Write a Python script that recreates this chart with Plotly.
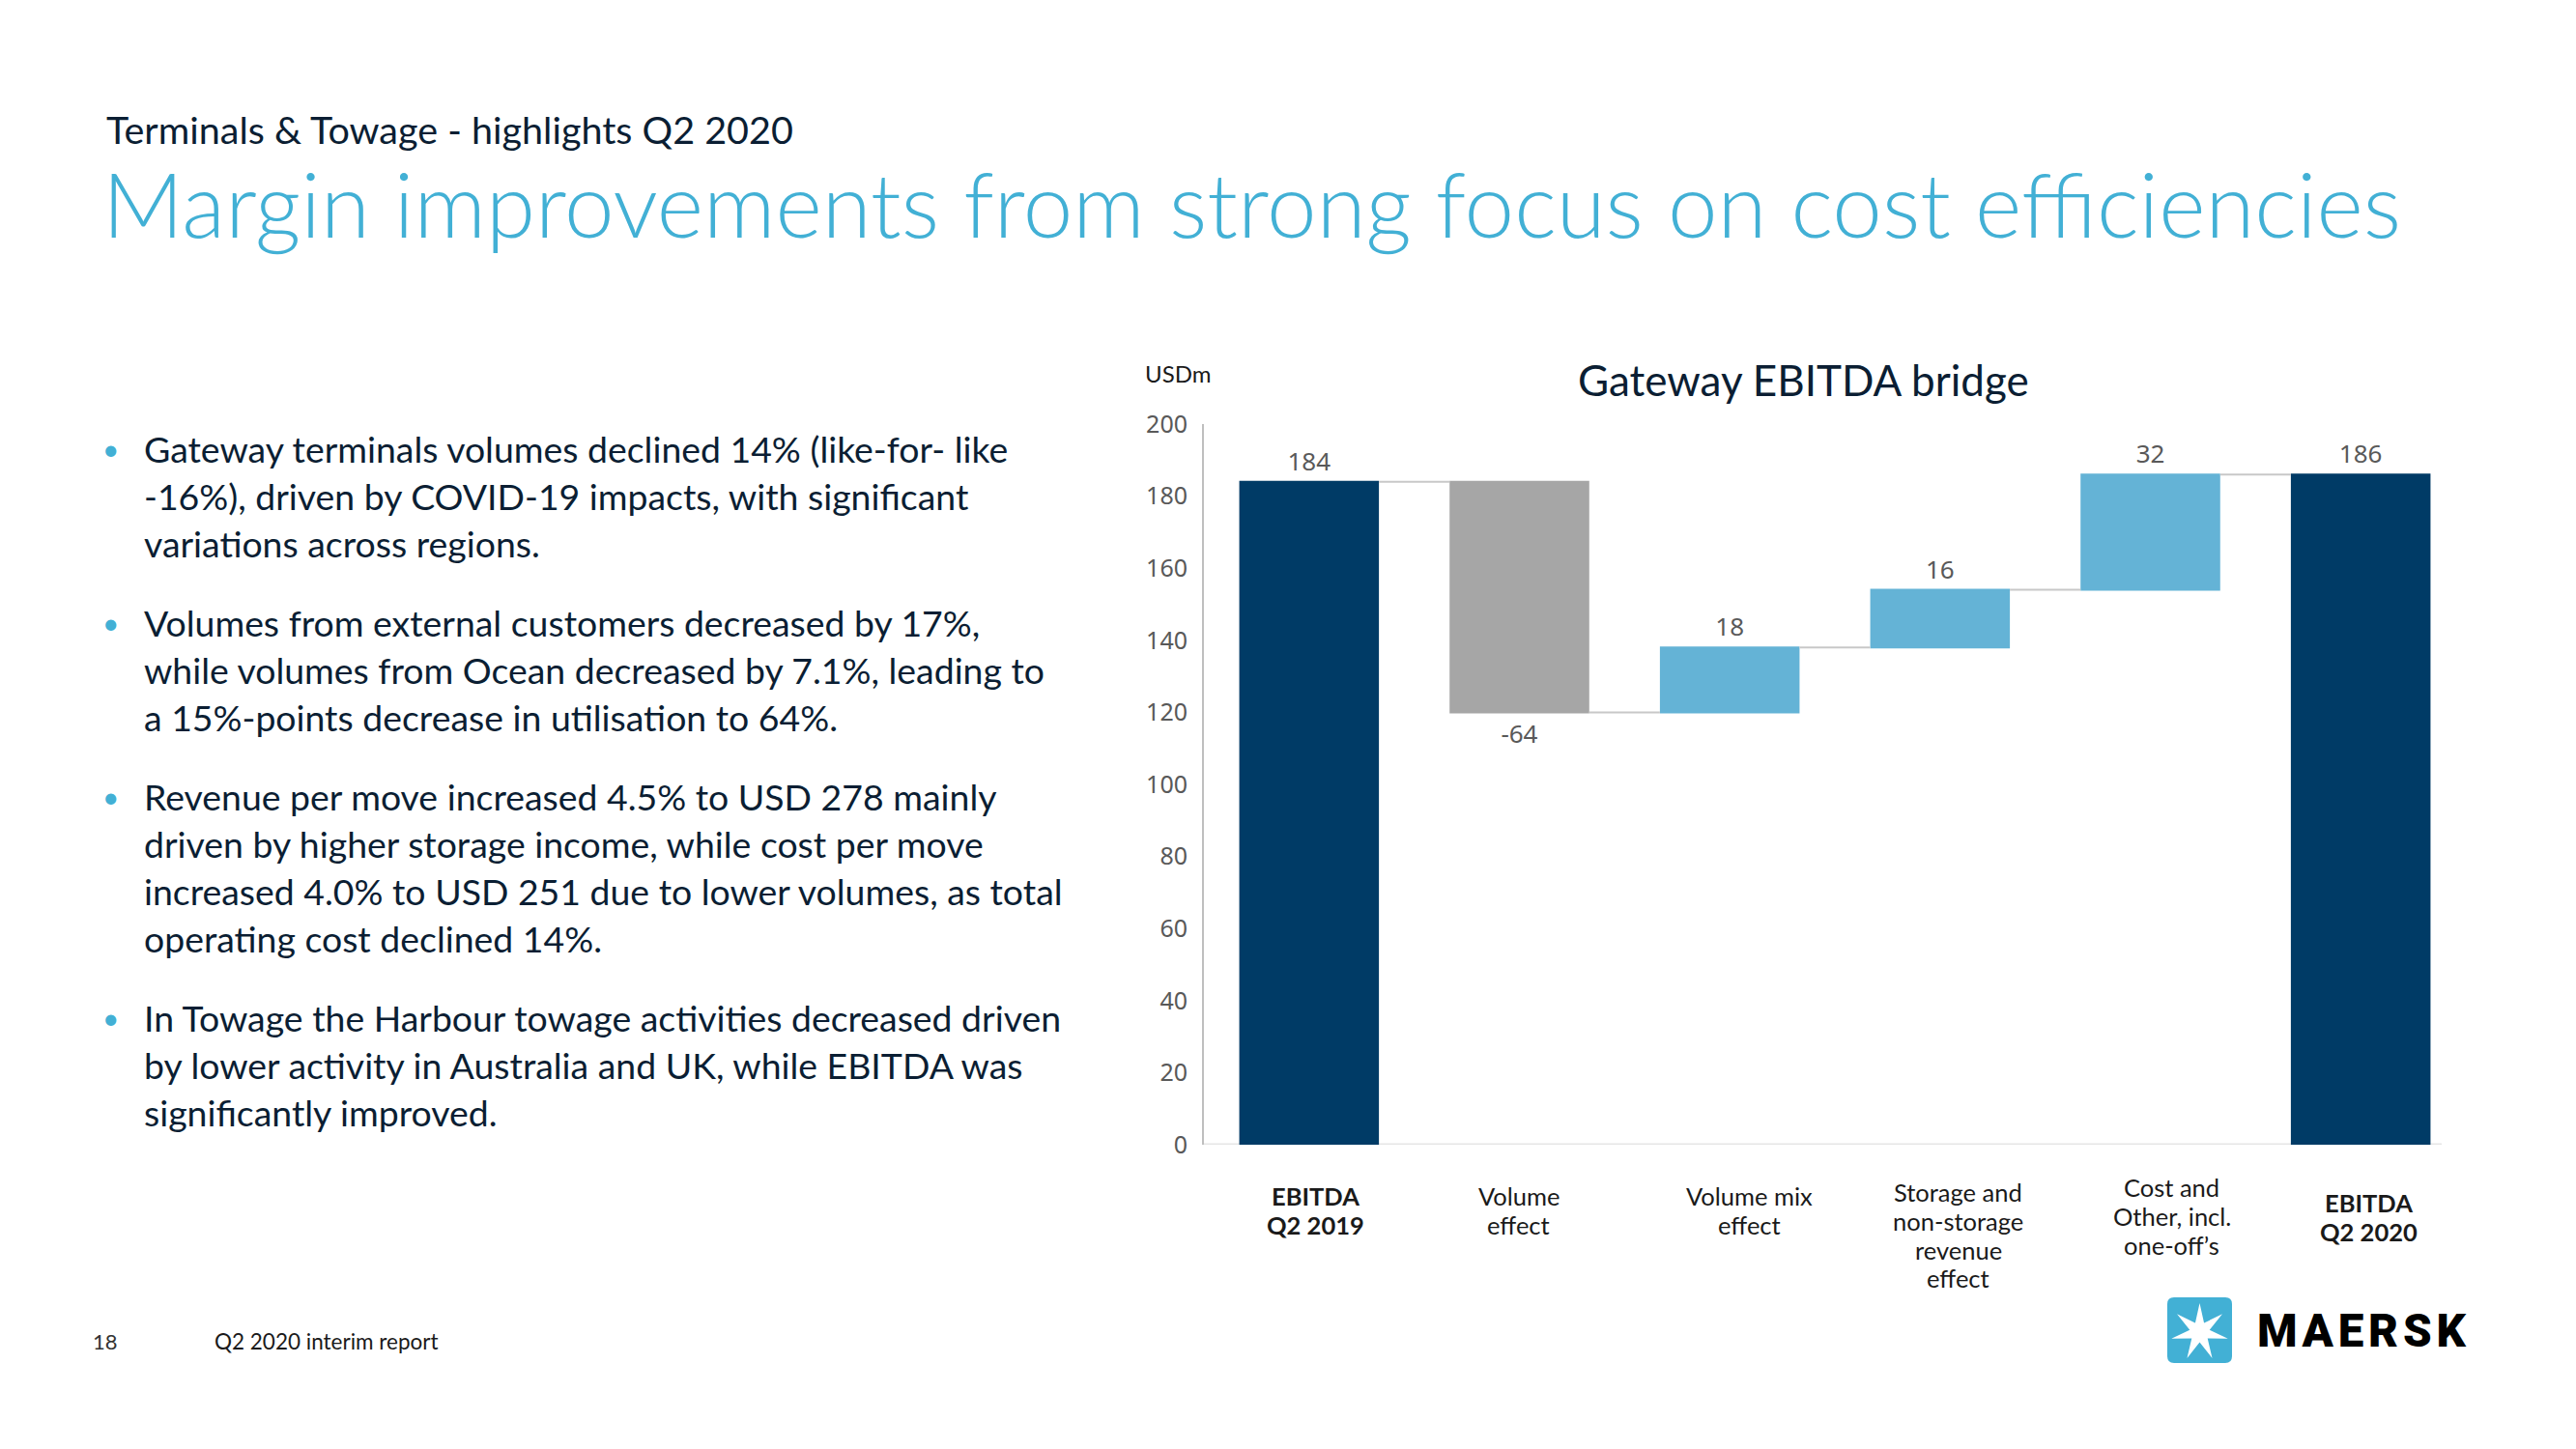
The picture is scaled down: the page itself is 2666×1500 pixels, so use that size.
import math
import plotly.graph_objects as go

W, H = 2666, 1500
PAGE_OFFSET = 8  # default body margin of the written html page

# ---------------- data ----------------
categories = ["EBITDA Q2 2019", "Volume effect", "Volume mix effect",
              "Storage and non-storage revenue effect",
              "Cost and Other, incl. one-off's", "EBITDA Q2 2020"]
category_lines = [["<b>EBITDA</b>", "<b>Q2 2019</b>"],
                  ["Volume", "effect"],
                  ["Volume mix", "effect"],
                  ["Storage and", "non-storage", "revenue", "effect"],
                  ["Cost and", "Other, incl.", "one-off\u2019s"],
                  ["<b>EBITDA</b>", "<b>Q2 2020</b>"]]
values = [184, -64, 18, 16, 32, 186]
measures = ["absolute", "relative", "relative", "relative", "relative", "total"]
value_labels = ["184", "-64", "18", "16", "32", "186"]
y_ticks = [0, 20, 40, 60, 80, 100, 120, 140, 160, 180, 200]

kicker = "Terminals & Towage - highlights Q2 2020"
headline = "Margin improvements from strong focus on cost efficiencies"
chart_title = "Gateway EBITDA bridge"
unit_label = "USDm"
bullets = [
    ["Gateway terminals volumes declined 14% (like-for- like",
     "-16%), driven by COVID-19 impacts, with significant",
     "variations across regions."],
    ["Volumes from external customers decreased by 17%,",
     "while volumes from Ocean decreased by 7.1%, leading to",
     "a 15%-points decrease in utilisation to 64%."],
    ["Revenue per move increased 4.5% to USD 278 mainly",
     "driven by higher storage income, while cost per move",
     "increased 4.0% to USD 251 due to lower volumes, as total",
     "operating cost declined 14%."],
    ["In Towage the Harbour towage activities decreased driven",
     "by lower activity in Australia and UK, while EBITDA was",
     "significantly improved."],
]
page_number = "18"
footer_text = "Q2 2020 interim report"
brand = "MAERSK"

# ---------------- style ----------------
NAVY = "#003b66"
LIGHT = "#64b3d6"
GREY = "#a6a6a6"
MAERSK_BLUE = "#42b0d5"
DARK_TEXT = "#0b1e33"
LABEL_GREY = "#595959"
TEXT_FONT = "Lato"
NUM_FONT = "Noto Sans"
label_first_line_y = [1238, 1238, 1238, 1234, 1229, 1245]
label_x_shift = [7, -1, 20, 19, 22, 8]
label_line_step = 29.8


def px(x):
    return (x - PAGE_OFFSET) / W


def py(y):
    return 1 - (y - PAGE_OFFSET) / H


fig = go.Figure()
fig.add_trace(go.Waterfall(
    x=categories,
    y=values,
    measure=measures,
    text=value_labels,
    textposition="outside",
    textfont=dict(family=NUM_FONT, size=26, color=LABEL_GREY),
    cliponaxis=False,
    increasing=dict(marker=dict(color=LIGHT)),
    decreasing=dict(marker=dict(color=GREY)),
    totals=dict(marker=dict(color=NAVY)),
    connector=dict(line=dict(color="#c8c8c8", width=2), mode="between"),
    hoverinfo="skip",
    showlegend=False,
))

annotations = []
annotations.append(dict(text=kicker, x=px(108), y=py(133), xref="paper", yref="paper",
                        xanchor="left", yanchor="middle", showarrow=False,
                        font=dict(family=TEXT_FONT, size=39.5, color=DARK_TEXT)))
annotations.append(dict(text=headline, x=px(104), y=py(210), xref="paper", yref="paper",
                        xanchor="left", yanchor="middle", showarrow=False,
                        font=dict(family=TEXT_FONT, size=92.5, color=MAERSK_BLUE, weight=300)))

line_step = 49.1
para_gap = 32.8
y = 464.0
for para in bullets:
    for i, line in enumerate(para):
        if i == 0:
            annotations.append(dict(text="\u2022", x=px(114), y=py(y), xref="paper", yref="paper",
                                    xanchor="center", yanchor="middle", showarrow=False,
                                    font=dict(family=TEXT_FONT, size=30, color=MAERSK_BLUE)))
        annotations.append(dict(text=line, x=px(147), y=py(y), xref="paper", yref="paper",
                                xanchor="left", yanchor="middle", showarrow=False,
                                font=dict(family=TEXT_FONT, size=37.4, color=DARK_TEXT)))
        y += line_step
    y += para_gap

for cat, lines, y0, dx in zip(categories, category_lines, label_first_line_y, label_x_shift):
    for j, ln in enumerate(lines):
        annotations.append(dict(text=ln, x=cat, y=py(y0 + j * label_line_step), xref="x", yref="paper",
                                xanchor="center", yanchor="middle", showarrow=False, xshift=dx,
                                font=dict(family=TEXT_FONT, size=25.5, color="#1a1a1a")))

annotations.append(dict(text=chart_title, x=px(1866), y=py(393), xref="paper", yref="paper",
                        xanchor="center", yanchor="middle", showarrow=False,
                        font=dict(family=TEXT_FONT, size=44, color=DARK_TEXT)))
annotations.append(dict(text=unit_label, x=px(1219), y=py(386), xref="paper", yref="paper",
                        xanchor="center", yanchor="middle", showarrow=False,
                        font=dict(family=TEXT_FONT, size=24, color="#1a1a1a")))

annotations.append(dict(text=page_number, x=px(94), y=py(1388), xref="paper", yref="paper",
                        xanchor="left", yanchor="middle", showarrow=False,
                        font=dict(family=TEXT_FONT, size=22, color="#333333")))
annotations.append(dict(text=footer_text, x=px(220), y=py(1388), xref="paper", yref="paper",
                        xanchor="left", yanchor="middle", showarrow=False,
                        font=dict(family=TEXT_FONT, size=22.5, color="#1a1a1a")))

annotations.append(dict(text="\u200a".join(brand), x=px(2334), y=py(1378), xref="paper", yref="paper",
                        xanchor="left", yanchor="middle", showarrow=False,
                        font=dict(family="Roboto", size=47.5, color="#000000", weight=900)))

shapes = []
shapes.append(dict(type="line", xref="paper", yref="y", x0=px(1246), x1=px(2527), y0=0, y1=0,
                   line=dict(color="#e6e6e6", width=3), layer="below"))
x0, x1, y0, y1, rr = 2243, 2310, 1343, 1411, 7
box_path = (f"M {px(x0+rr)},{py(y0)} L {px(x1-rr)},{py(y0)} Q {px(x1)},{py(y0)} {px(x1)},{py(y0+rr)} "
            f"L {px(x1)},{py(y1-rr)} Q {px(x1)},{py(y1)} {px(x1-rr)},{py(y1)} "
            f"L {px(x0+rr)},{py(y1)} Q {px(x0)},{py(y1)} {px(x0)},{py(y1-rr)} "
            f"L {px(x0)},{py(y0+rr)} Q {px(x0)},{py(y0)} {px(x0+rr)},{py(y0)} Z")
shapes.append(dict(type="path", path=box_path, xref="paper", yref="paper",
                   fillcolor=MAERSK_BLUE, line=dict(width=0)))
cx, cy, R, r = 2276.5, 1379, 30, 10.5
pts = []
for k in range(14):
    ang = math.radians(-90 + k * 360 / 14)
    rad = R if k % 2 == 0 else r
    pts.append((cx + rad * math.cos(ang), cy + rad * math.sin(ang)))
star_path = "M " + " L ".join(f"{px(a)},{py(b)}" for a, b in pts) + " Z"
shapes.append(dict(type="path", path=star_path, xref="paper", yref="paper",
                   fillcolor="white", line=dict(width=0)))

fig.update_layout(
    width=W, height=H, autosize=False,
    margin=dict(l=0, r=0, t=0, b=0, pad=0, autoexpand=False),
    paper_bgcolor="white", plot_bgcolor="white",
    waterfallgap=0.336,
    showlegend=False,
    annotations=annotations,
    shapes=shapes,
    xaxis=dict(domain=[px(1246), px(2552)], showgrid=False, zeroline=False,
               showline=False, showticklabels=False, ticks="", automargin=False,
               fixedrange=True),
    yaxis=dict(domain=[py(1185), py(439)], range=[0, 200], showgrid=False,
               zeroline=False, showline=True, linecolor="#bfbfbf", linewidth=2,
               tickmode="array", tickvals=y_ticks,
               tickfont=dict(family=NUM_FONT, size=25, color=LABEL_GREY),
               ticks="outside", ticklen=10, tickcolor="rgba(0,0,0,0)",
               automargin=False, fixedrange=True),
)

fig.write_html("out.html")
